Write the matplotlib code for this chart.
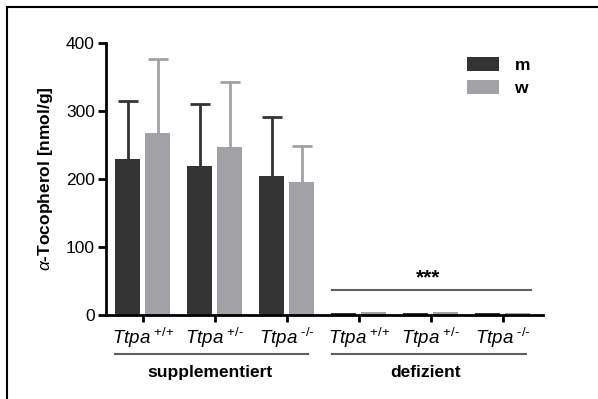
import matplotlib.pyplot as plt
import matplotlib.transforms as mtransforms
from matplotlib.lines import Line2D

plt.rcParams['font.family'] = ['Liberation Sans', 'DejaVu Sans']
plt.rcParams['mathtext.fontset'] = 'custom'
plt.rcParams['mathtext.rm'] = 'Liberation Sans'
plt.rcParams['mathtext.it'] = 'Liberation Sans:italic'
plt.rcParams['mathtext.bf'] = 'Liberation Sans:bold'

# ===============================
# Data
# ===============================
genotypes = ['+/+', '+/-', '-/-', '+/+', '+/-', '-/-']
m_mean = [229, 219, 205, 3, 2.5, 2.5]
w_mean = [267, 247, 196, 4, 4, 3]
m_sd = [86, 91, 86]
w_sd = [110, 95, 52]
diets = ['supplementiert', 'defizient']
sig_level = 37
sig_text = '***'

dark = '#333333'
gray = '#a2a2a6'
fs = 12.5

# ===============================
# Figure
# ===============================
fig = plt.figure(figsize=(5.98, 3.99), dpi=100)
ax = fig.add_axes([106/598, 1-315/399, (543-106)/598, (315-43)/399])

x = list(range(len(genotypes)))
bw = 0.35
off = 0.21
xm = [i - off for i in x]
xw = [i + off for i in x]

ax.bar(xm, m_mean, width=bw, color=dark, label='m', zorder=2)
ax.bar(xw, w_mean, width=bw, color=gray, label='w', zorder=2)

# only upper error bars
n = len(m_sd)
for xs, ys, sd, c in [(xm, m_mean, m_sd, dark), (xw, w_mean, w_sd, gray)]:
    eb = ax.errorbar(xs[:n], ys[:n], yerr=[[0]*n, sd], fmt='none',
                     ecolor=c, elinewidth=2, capsize=7, capthick=2, zorder=1)
    eb[1][0].set_visible(False)

ax.set_xlim(-0.51, 5.56)
ax.set_ylim(0, 400)
ax.set_yticks([0, 100, 200, 300, 400])
ax.set_xticks(x)
ax.set_xticklabels([r'$\mathit{Ttpa}^{\ \text{' + g + '}}$' for g in genotypes],
                   fontsize=13.5)
ax.tick_params(axis='y', labelsize=fs, length=6, width=2, pad=2)
ax.tick_params(axis='x', length=5, width=2, pad=3)

for s in ['top', 'right']:
    ax.spines[s].set_visible(False)
for s in ['left', 'bottom']:
    ax.spines[s].set_linewidth(2)

ax.set_ylabel(r'$\alpha$-Tocopherol [nmol/g]', fontsize=fs, fontweight='bold',
              labelpad=8)

# significance line
ax.plot([2.625, 5.40], [sig_level, sig_level], color='#606060', lw=1.5,
        clip_on=False)
ax.text(3.97, sig_level + 3, sig_text, ha='center', va='bottom',
        fontsize=15, fontweight='bold')

# diet brackets below axis
trans = mtransforms.blended_transform_factory(ax.transData, ax.transAxes)
ax.plot([-0.39, 2.29], [-0.143, -0.143], color='#606060', lw=1.5,
        transform=trans, clip_on=False)
ax.plot([2.625, 5.32], [-0.143, -0.143], color='#606060', lw=1.5,
        transform=trans, clip_on=False)
ax.text(0.93, -0.21, diets[0], transform=trans, ha='center', va='center',
        fontsize=fs, fontweight='bold')
ax.text(3.93, -0.21, diets[1], transform=trans, ha='center', va='center',
        fontsize=fs, fontweight='bold')

# legend
leg = ax.legend(loc='upper left', bbox_to_anchor=(458/598, 1-48/399),
                bbox_transform=fig.transFigure, frameon=False, borderpad=0,
                handlelength=1.85, handleheight=0.85, handletextpad=0.9,
                labelspacing=0.45, prop={'size': fs, 'weight': 'bold'})

# frame lines (top and left only)
fig.add_artist(Line2D([7/598, 1], [1-6.5/399, 1-6.5/399], color='black',
                      lw=1.5, transform=fig.transFigure))
fig.add_artist(Line2D([7/598, 7/598], [0, 1-6.5/399], color='black',
                      lw=1.5, transform=fig.transFigure))

fig.savefig('out.png', dpi=100)
